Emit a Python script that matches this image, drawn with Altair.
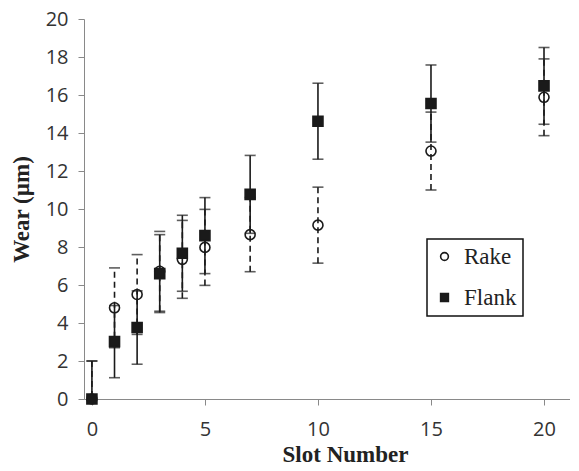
import altair as alt
import pandas as pd

slots = [0, 1, 2, 3, 4, 5, 7, 10, 15, 20]
rake_mean = [0, 4.8, 5.5, 6.72, 7.35, 7.98, 8.65, 9.15, 13.05, 15.88]
rake_err = [2.0, 2.1, 2.1, 2.1, 2.05, 2.0, 1.95, 2.0, 2.05, 2.02]
flank_mean = [0, 3.02, 3.76, 6.6, 7.67, 8.6, 10.77, 14.62, 15.55, 16.48]
flank_err = [2.0, 1.9, 1.93, 2.05, 2.0, 2.0, 2.05, 2.0, 2.03, 2.02]
x_ticks = [0, 5, 10, 15, 20]
y_ticks = [0, 2, 4, 6, 8, 10, 12, 14, 16, 18, 20]

rows = []
for name, means, errs in [("Rake", rake_mean, rake_err), ("Flank", flank_mean, flank_err)]:
    for s, m, e in zip(slots, means, errs):
        rows.append({"slot": s, "series": name, "mean": m, "lo": m - e, "hi": m + e})
df = pd.DataFrame(rows)

INK = "#1a1a1a"
AXC = "#898989"
SERIF = "Liberation Serif"

xscale = alt.Scale(domain=[-0.35, 21.15], nice=False, zero=False)
yscale = alt.Scale(domain=[0, 20], nice=False)
xaxis = alt.Axis(values=x_ticks, title="Slot Number", grid=False,
                 titleFont=SERIF, titleFontSize=23, titleFontWeight="bold",
                 titleColor="#222", titleX=261, titlePadding=4,
                 labelFont="Open Sans", labelFontSize=20, labelColor="#333",
                 labelPadding=14, tickSize=6, domainColor=AXC, tickColor=AXC,
                 labelOverlap=False)
yaxis = alt.Axis(values=y_ticks, title="Wear (µm)", grid=False,
                 titleFont=SERIF, titleFontSize=23, titleFontWeight="bold",
                 titleColor="#222", titlePadding=12,
                 labelFont="Open Sans", labelFontSize=20, labelColor="#333",
                 labelPadding=10, tickSize=6, domainColor=AXC, tickColor=AXC,
                 labelOverlap=False)

base = alt.Chart(df)

def bars(name, dash):
    sub = base.transform_filter(alt.datum.series == name)
    rule_kw = dict(color=INK, strokeWidth=1.6, clip=True)
    if dash:
        rule_kw["strokeDash"] = [6, 4]
    r = sub.mark_rule(**rule_kw).encode(
        x=alt.X("slot:Q", scale=xscale, axis=xaxis),
        y=alt.Y("lo:Q", scale=yscale, axis=yaxis), y2="hi:Q")
    t1 = sub.mark_tick(orient="horizontal", size=11, thickness=1.6, color=INK, clip=True).encode(
        x=alt.X("slot:Q", scale=xscale, axis=xaxis), y=alt.Y("lo:Q", scale=yscale, axis=yaxis))
    t2 = sub.mark_tick(orient="horizontal", size=11, thickness=1.6, color=INK, clip=True).encode(
        x=alt.X("slot:Q", scale=xscale, axis=xaxis), y=alt.Y("hi:Q", scale=yscale, axis=yaxis))
    return r + t1 + t2

leg = alt.Legend(title=None, orient="none", legendX=343, legendY=220,
                 symbolStrokeColor=INK, symbolStrokeWidth=1.6,
                 labelFont=SERIF, labelFontSize=23, labelColor="#222",
                 symbolSize=60, rowPadding=17, labelOffset=8, padding=6,
                 strokeColor="#111")
dom = ["Rake", "Flank"]

pts = base.mark_point(strokeWidth=1.6, opacity=1).encode(
    x=alt.X("slot:Q", scale=xscale, axis=xaxis),
    y=alt.Y("mean:Q", scale=yscale, axis=yaxis),
    shape=alt.Shape("series:N", scale=alt.Scale(domain=dom, range=["circle", "square"]), legend=leg),
    fill=alt.Fill("series:N", scale=alt.Scale(domain=dom, range=["transparent", INK]), legend=leg),
    stroke=alt.Stroke("series:N", scale=alt.Scale(domain=dom, range=[INK, INK]), legend=leg),
    size=alt.value(100),
)

chart = alt.layer(bars("Flank", False), bars("Rake", True), pts).properties(
    width=486, height=380, autosize="none",
    padding={"left": 76, "top": 11, "right": 0, "bottom": 75},
).configure(font=SERIF).configure_view(stroke=None).configure_axis(labelOverlap=False).configure_legend(
    strokeColor="#111", strokeWidth=1.5, padding=6, labelFont=SERIF,
    labelFontSize=23, labelColor="#222", symbolSize=60, symbolStrokeWidth=1.6,
    symbolStrokeColor=INK, rowPadding=17, labelOffset=8,
)

chart.save("out.html", embed_options={"renderer": "svg", "actions": False})
